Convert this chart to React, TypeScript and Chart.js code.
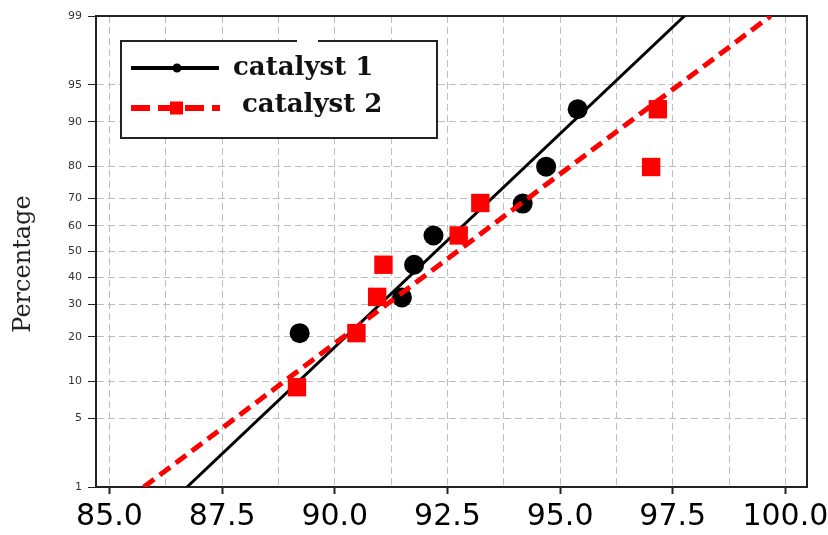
import React, { useEffect, useRef } from 'react';
import { Chart, registerables } from 'chart.js';

Chart.register(...registerables);

// ---- data ----
const xGridTicks = [85, 86.25, 87.5, 88.75, 90, 91.25, 92.5, 93.75, 95, 96.25, 97.5, 98.75, 100];
const xLabelTicks = [85.0, 87.5, 90.0, 92.5, 95.0, 97.5, 100.0];
const yTickPercents = [1, 5, 10, 20, 30, 40, 50, 60, 70, 80, 90, 95, 99];

const catalyst1X = [89.22, 91.49, 91.76, 92.19, 94.17, 94.69, 95.39];
const catalyst1P = [21.0, 32.5, 44.8, 56.3, 68.2, 79.9, 92.0];

const catalyst2X = [89.16, 90.48, 90.94, 91.08, 92.75, 93.23, 97.02, 97.17];
const catalyst2P = [9.0, 21.0, 32.7, 44.8, 56.3, 68.4, 79.8, 92.0];

const fit1X = [86.72, 97.76];
const fit1P = [1, 99];
const fit2X = [85.76, 99.67];
const fit2P = [1, 99];

const xMin = 84.7;
const xMax = 100.48;
const pMin = 1;
const pMax = 99;

// inverse standard normal CDF (probability scale)
function probit(p: number): number {
  const a = [-3.969683028665376e1, 2.209460984245205e2, -2.759285104469687e2, 1.38357751867269e2, -3.066479806614716e1, 2.506628277459239];
  const b = [-5.447609879822406e1, 1.615858368580409e2, -1.556989798598866e2, 6.680131188771972e1, -1.328068155288572e1];
  const c = [-7.784894002430293e-3, -3.223964580411365e-1, -2.400758277161838, -2.549732539343734, 4.374664141464968, 2.938163982698783];
  const d = [7.784695709041462e-3, 3.224671290700398e-1, 2.445134137142996, 3.754408661907416];
  const plow = 0.02425;
  const phigh = 1 - plow;
  let q: number;
  let r: number;
  if (p < plow) {
    q = Math.sqrt(-2 * Math.log(p));
    return (((((c[0] * q + c[1]) * q + c[2]) * q + c[3]) * q + c[4]) * q + c[5]) / ((((d[0] * q + d[1]) * q + d[2]) * q + d[3]) * q + 1);
  }
  if (p > phigh) {
    q = Math.sqrt(-2 * Math.log(1 - p));
    return -(((((c[0] * q + c[1]) * q + c[2]) * q + c[3]) * q + c[4]) * q + c[5]) / ((((d[0] * q + d[1]) * q + d[2]) * q + d[3]) * q + 1);
  }
  q = p - 0.5;
  r = q * q;
  return ((((((a[0] * r + a[1]) * r + a[2]) * r + a[3]) * r + a[4]) * r + a[5]) * q) / (((((b[0] * r + b[1]) * r + b[2]) * r + b[3]) * r + b[4]) * r + 1);
}

const toPoints = (xs: number[], ps: number[]) => xs.map((x, i) => ({ x, y: probit(ps[i] / 100) }));

const isMajor = (v: number) => xLabelTicks.some((t) => Math.abs(t - v) < 1e-6);

const framePlugin = {
  id: 'frame',
  beforeDatasetsDraw(chart: any) {
    const { ctx, chartArea: ca } = chart;
    ctx.save();
    ctx.strokeStyle = '#222';
    ctx.lineWidth = 2;
    ctx.strokeRect(ca.left, ca.top, ca.right - ca.left, ca.bottom - ca.top);
    ctx.restore();
  },
};

const legendTitlePlugin = {
  id: 'legendTitle',
  afterDraw(chart: any) {
    const { ctx, chartArea: ca } = chart;
    ctx.save();
    // legend box
    const bx = ca.left + 25;
    const by = ca.top + 25;
    const bw = 316;
    const bh = 97;
    ctx.fillStyle = '#fff';
    ctx.fillRect(bx, by, bw, bh);
    ctx.strokeStyle = '#222';
    ctx.lineWidth = 2;
    ctx.beginPath();
    ctx.moveTo(bx, by);
    ctx.lineTo(bx + 176, by);
    ctx.moveTo(bx + 197, by);
    ctx.lineTo(bx + bw, by);
    ctx.lineTo(bx + bw, by + bh);
    ctx.lineTo(bx, by + bh);
    ctx.lineTo(bx, by - 1);
    ctx.stroke();

    // row 1
    const y1 = by + 27;
    ctx.strokeStyle = '#000';
    ctx.lineWidth = 4;
    ctx.beginPath();
    ctx.moveTo(bx + 10, y1);
    ctx.lineTo(bx + 98, y1);
    ctx.stroke();
    ctx.fillStyle = '#000';
    ctx.beginPath();
    ctx.arc(bx + 56, y1, 4.5, 0, Math.PI * 2);
    ctx.fill();
    ctx.font = 'bold 26px "DejaVu Serif"';
    ctx.textAlign = 'left';
    ctx.textBaseline = 'alphabetic';
    ctx.fillStyle = '#111';
    ctx.fillText(chart.data.datasets[1].label, bx + 112, by + 34);

    // row 2
    const y2 = by + 67;
    ctx.strokeStyle = '#f00';
    ctx.lineWidth = 6;
    ctx.setLineDash([19, 8]);
    ctx.beginPath();
    ctx.moveTo(bx + 10, y2);
    ctx.lineTo(bx + 99, y2);
    ctx.stroke();
    ctx.setLineDash([]);
    ctx.fillStyle = '#f00';
    ctx.fillRect(bx + 49, y2 - 6.5, 13, 13);
    ctx.fillStyle = '#111';
    ctx.fillText(chart.data.datasets[3].label, bx + 121, by + 71);

    // y axis title
    ctx.translate(30, 264);
    ctx.rotate(-Math.PI / 2);
    ctx.font = '24px "DejaVu Serif"';
    ctx.textAlign = 'center';
    ctx.textBaseline = 'alphabetic';
    ctx.fillStyle = '#222';
    ctx.fillText('Percentage', 0, 0);
    ctx.restore();
  },
};

export default function App() {
  const ref = useRef<HTMLCanvasElement>(null);

  useEffect(() => {
    if (!ref.current) return;
    const gridColor = '#bdbdbd';
    const chart = new Chart(ref.current, {
      type: 'scatter',
      data: {
        datasets: [
          {
            label: 'catalyst 1 fit',
            data: toPoints(fit1X, fit1P),
            showLine: true,
            borderColor: '#000',
            borderWidth: 3,
            pointRadius: 0,
            order: 4,
          },
          {
            label: 'catalyst 1',
            data: toPoints(catalyst1X, catalyst1P),
            backgroundColor: '#000',
            borderColor: '#000',
            borderWidth: 0,
            pointStyle: 'circle',
            pointRadius: 10,
            order: 3,
          },
          {
            label: 'catalyst 2 fit',
            data: toPoints(fit2X, fit2P),
            showLine: true,
            borderColor: '#f00',
            borderWidth: 5,
            borderDash: [13, 7],
            pointRadius: 0,
            order: 2,
          },
          {
            label: 'catalyst 2',
            data: toPoints(catalyst2X, catalyst2P),
            backgroundColor: '#f00',
            borderColor: '#f00',
            borderWidth: 0,
            pointStyle: 'rect',
            pointRadius: 13,
            order: 1,
          },
        ],
      } as any,
      options: {
        responsive: false,
        animation: false,
        devicePixelRatio: 1,
        layout: { padding: { left: 0, right: 21, top: 16, bottom: 0 } },
        plugins: { legend: { display: false }, tooltip: { enabled: false } },
        scales: {
          x: {
            type: 'linear',
            min: xMin,
            max: xMax,
            afterBuildTicks: (s: any) => {
              s.ticks = xGridTicks.map((v) => ({ value: v }));
            },
            afterFit: (s: any) => {
              s.height = 48;
              s.paddingLeft = 0;
              s.paddingRight = 0;
            },
            ticks: {
              autoSkip: false,
              maxRotation: 0,
              minRotation: 0,
              padding: 5,
              color: '#000',
              font: { family: '"DejaVu Sans"', size: 30 },
              callback: (v: any) => (isMajor(Number(v)) ? Number(v).toFixed(1) : ''),
            },
            grid: {
              color: gridColor,
              lineWidth: 1,
              tickLength: 7,
              tickWidth: 2,
              tickColor: (c: any) => (c.tick && isMajor(c.tick.value) ? '#222' : 'rgba(0,0,0,0)'),
              tickBorderDash: [],
            },
            border: { display: true, color: '#222', width: 2, dash: [7, 4] },
          },
          y: {
            type: 'linear',
            min: probit(pMin / 100),
            max: probit(pMax / 100),
            afterBuildTicks: (s: any) => {
              s.ticks = yTickPercents.map((p) => ({ value: probit(p / 100) }));
            },
            afterFit: (s: any) => {
              s.width = 96;
              s.paddingTop = 0;
              s.paddingBottom = 0;
            },
            ticks: {
              autoSkip: false,
              padding: 6,
              color: '#333',
              font: { family: '"DejaVu Sans"', size: 11 },
              callback: (_v: any, i: number) => String(yTickPercents[i]),
            },
            grid: {
              color: gridColor,
              lineWidth: 1,
              tickLength: 8,
              tickWidth: 1,
              tickColor: '#222',
              tickBorderDash: [],
            },
            border: { display: true, color: '#222', width: 2, dash: [7, 4] },
          },
        },
      } as any,
      plugins: [framePlugin, legendTitlePlugin],
    });
    return () => chart.destroy();
  }, []);

  return (
    <div style={{ position: 'fixed', left: 0, top: 0, width: 828, height: 535, background: '#fff' }}>
      <canvas ref={ref} width={828} height={535} style={{ display: 'block' }} />
    </div>
  );
}
